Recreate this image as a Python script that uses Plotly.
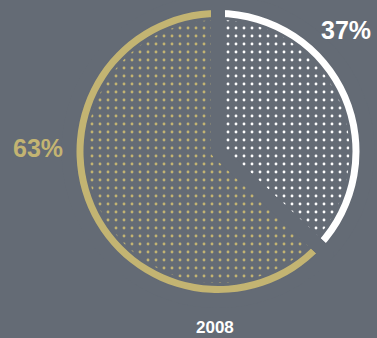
import plotly.graph_objects as go

# Data
labels = ["Share A", "Share B"]
values = [37, 63]
year_label = "2008"

BG = "#646b75"
WHITE = "#ffffff"
GOLD = "#c3b472"
slice_colors = [WHITE, GOLD]

W, H = 377, 338
CX, CY = 218, 151.5      # pie centre in px (from top)
R_RING = 141.5           # outer radius of ring
RING_T = 7               # ring thickness
R_DOTS = 131.5           # radius of dotted area
GAP = 14                 # gap width between slices


def domain(r):
    return dict(x=[(CX - r) / W, (CX + r) / W],
                y=[(H - CY - r) / H, (H - CY + r) / H])


fig = go.Figure()

# dotted slices
fig.add_trace(go.Pie(
    labels=labels, values=values, sort=False, direction="clockwise", rotation=0,
    domain=domain(R_DOTS), textinfo="none", hoverinfo="none", showlegend=False,
    marker=dict(colors=["rgba(0,0,0,0)"] * 2,
                line=dict(width=0),
                pattern=dict(shape=".", fgcolor=slice_colors,
                             bgcolor="rgba(0,0,0,0)", size=8, solidity=0.1)),
))

# outer ring
fig.add_trace(go.Pie(
    labels=labels, values=values, sort=False, direction="clockwise", rotation=0,
    domain=domain(R_RING), hole=(R_RING - RING_T) / R_RING,
    textinfo="none", hoverinfo="none", showlegend=False,
    marker=dict(colors=slice_colors, line=dict(width=0)),
))

# gap cutter (background coloured strokes)
fig.add_trace(go.Pie(
    labels=labels, values=values, sort=False, direction="clockwise", rotation=0,
    domain=domain(R_RING + GAP / 2 + 1),
    textinfo="none", hoverinfo="none", showlegend=False,
    marker=dict(colors=["rgba(0,0,0,0)"] * 2, line=dict(width=GAP, color=BG)),
))

font = "Liberation Sans, Arial, sans-serif"
common = dict(xref="paper", yref="paper", showarrow=False,
              xanchor="center", yanchor="middle")
fig.add_annotation(x=346 / W, y=1 - 30 / H, text=f"<b>{values[0]}%</b>",
                   font=dict(family=font, size=25, color=WHITE), **common)
fig.add_annotation(x=37.5 / W, y=1 - 148 / H, text=f"<b>{values[1]}%</b>",
                   font=dict(family=font, size=25, color=GOLD), **common)
fig.add_annotation(x=214.5 / W, y=1 - 327 / H, text=f"<b>{year_label}</b>",
                   font=dict(family=font, size=17, color=WHITE), **common)

fig.update_layout(width=W, height=H, margin=dict(l=0, r=0, t=0, b=0),
                  paper_bgcolor=BG, plot_bgcolor=BG)

fig.write_html("out.html")
